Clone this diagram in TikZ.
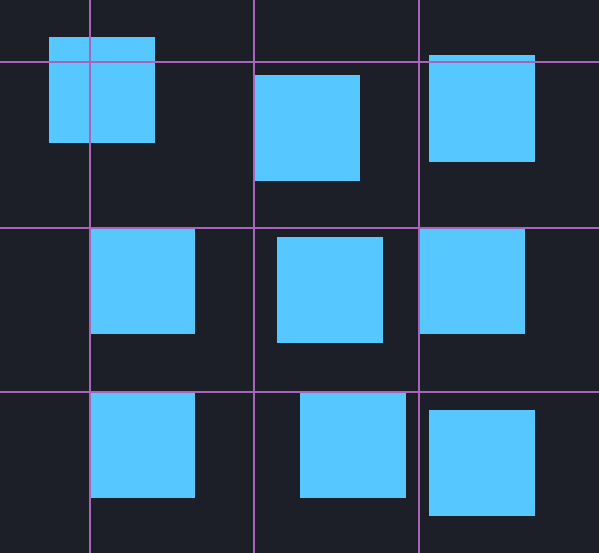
\documentclass[tikz,border=0pt]{standalone}
\usepackage{tikz}
\usetikzlibrary{positioning}

\definecolor{bgdark}{HTML}{1C1F28}
\definecolor{boxblue}{HTML}{56C8FF}
\definecolor{gridpurple}{HTML}{A864B8}

\begin{document}
\begin{tikzpicture}
[x=1bp,y=-1bp,
 every node/.style={inner sep=0pt,outer sep=0pt},
 box/.style={rectangle,fill=boxblue,minimum width=106bp,minimum height=106bp,anchor=north west},
 gridline/.style={draw=gridpurple,line width=2bp}]
\fill[bgdark] (0,0) rectangle (599,553);
\useasboundingbox (0,0) rectangle (599,553);

% top row
\node[box] (sqA) at (48.5,37)  {};
\node[box] (sqB) at (254,75)   {};
\node[box] (sqC) at (429,55.5) {};
% middle row
\node[box] (sqD) at (89,227.5)  {};
\node[box] (sqE) at (276.5,237) {};
\node[box] (sqF) at (418.5,227.5) {};
% bottom row
\node[box] (sqG) at (89,392)  {};
\node[box] (sqH) at (300,392) {};
\node[box] (sqI) at (429,410) {};

% grid drawn over the boxes
\draw[gridline] (89.5,0)  -- (89.5,553);
\draw[gridline] (253.5,0) -- (253.5,553);
\draw[gridline] (418.5,0) -- (418.5,553);
\draw[gridline] (0,62.5)  -- (599,62.5);
\draw[gridline] (0,227.5) -- (599,227.5);
\draw[gridline] (0,391.5) -- (599,391.5);
\end{tikzpicture}
\end{document}
